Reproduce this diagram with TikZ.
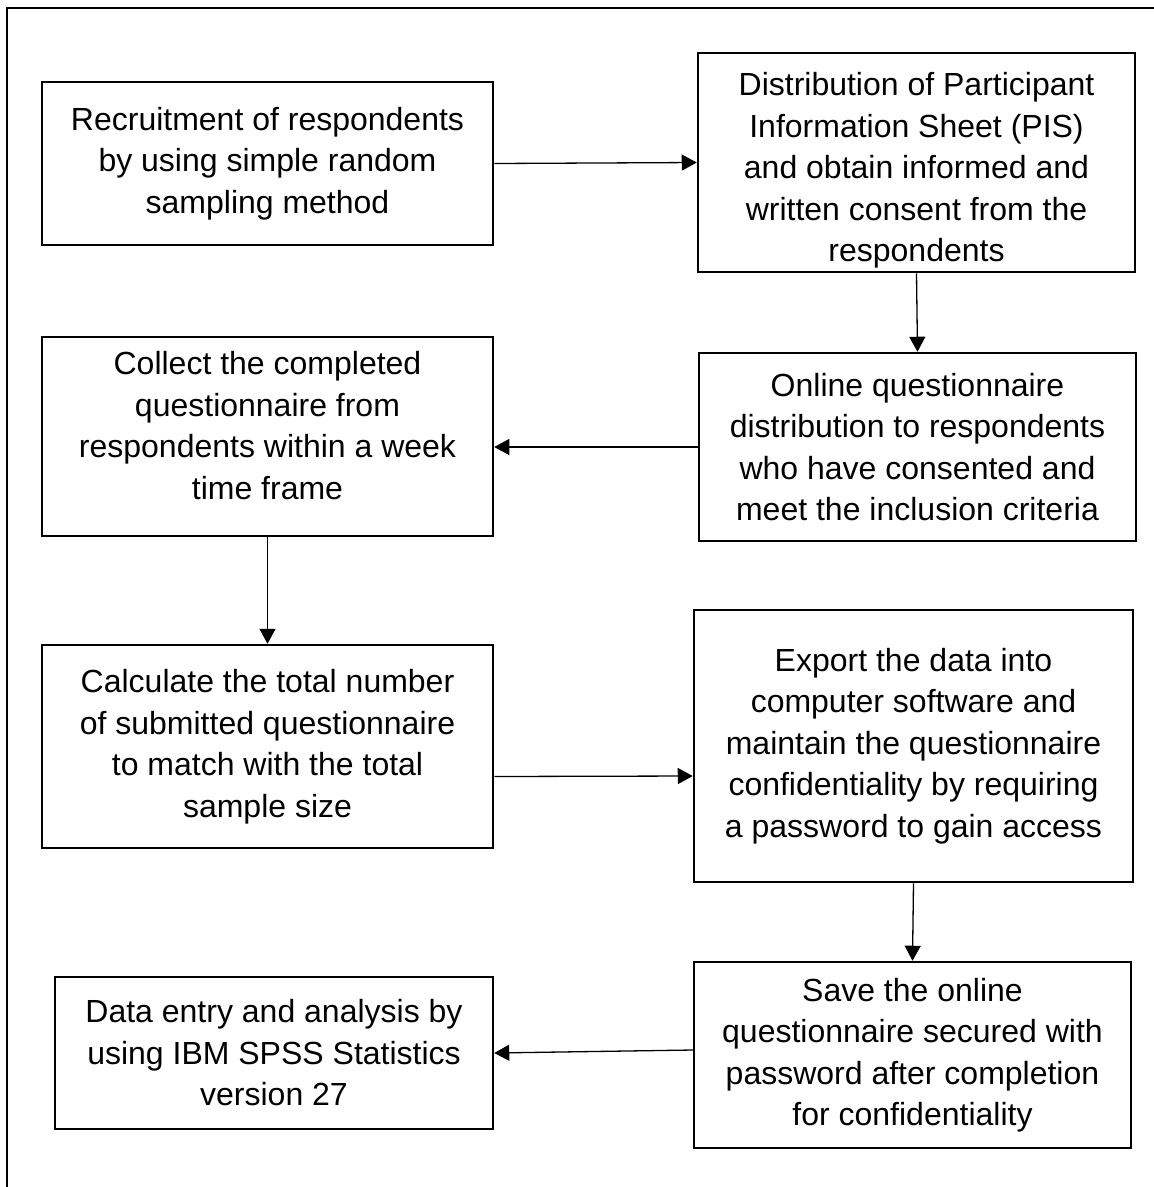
\documentclass[tikz,border=0pt]{standalone}
\usepackage{fontspec}
\setmainfont{Liberation Sans}
\usetikzlibrary{arrows.meta}
\tikzset{
  txt/.style={align=center, inner sep=0pt, font=\fontsize{32}{41.5}\selectfont},
  box/.style={txt, draw=black, line width=2.5pt},
  arr/.style={draw=black, line width=1.3pt, -{Triangle[length=15pt,width=16pt]}},
  frame/.style={draw=black, line width=2pt}
}
\begin{document}
\begin{tikzpicture}[x=1pt,y=-1pt]
\useasboundingbox (0,0) rectangle (1154,1187);
\clip (0,0) rectangle (1154,1187);
\fill[white] (0,0) rectangle (1154,1187);
\draw[frame] (7,8) rectangle (1170,1200);

\node[box, minimum width=451pt, minimum height=163pt] (B1) at (267.5,163.5)
  {Recruitment of respondents\\by using simple random\\sampling method};
\node[box, minimum width=437pt, minimum height=219pt] (B2) at (916.5,162.5) {};
\node[txt] (B2t) at ([yshift=-8pt]B2.center)
  {Distribution of Participant\\Information Sheet (PIS)\\and obtain informed and\\written consent from the\\respondents};
\node[box, minimum width=437pt, minimum height=188pt] (B3) at (917.5,447)
  {Online questionnaire\\distribution to respondents\\who have consented and\\meet the inclusion criteria};
\node[box, minimum width=451pt, minimum height=199pt] (B4) at (267.5,436.5) {};
\node[txt] (B4t) at ([yshift=11pt]B4.center)
  {Collect the completed\\questionnaire from\\respondents within a week\\time frame};
\node[box, minimum width=451pt, minimum height=203pt] (B5) at (267.5,746.5)
  {Calculate the total number\\of submitted questionnaire\\to match with the total\\sample size};
\node[box, minimum width=439pt, minimum height=272pt] (B6) at (913.5,746)
  {Export the data into\\computer software and\\maintain the questionnaire\\confidentiality by requiring\\a password to gain access};
\node[box, minimum width=437pt, minimum height=186pt] (B7) at (912.5,1055)
  {Save the online\\questionnaire secured with\\password after completion\\for confidentiality};
\node[box, minimum width=438pt, minimum height=152pt] (B8) at (274,1053)
  {Data entry and analysis by\\using IBM SPSS Statistics\\version 27};

\draw[arr] (B1.east) -- (B2.west);
\draw[arr] (B2.south) -- (B3.north);
\draw[arr] (B3.west) -- (B4.east |- B3.west);
\draw[arr] (B4.south) -- (B5.north);
\draw[arr] ([yshift=-30pt]B5.east) -- ([yshift=-30pt]B6.west);
\draw[arr] (B6.south) -- (B7.north);
\draw[arr] ([yshift=5pt]B7.west) -- (B8.east);
\end{tikzpicture}
\end{document}
